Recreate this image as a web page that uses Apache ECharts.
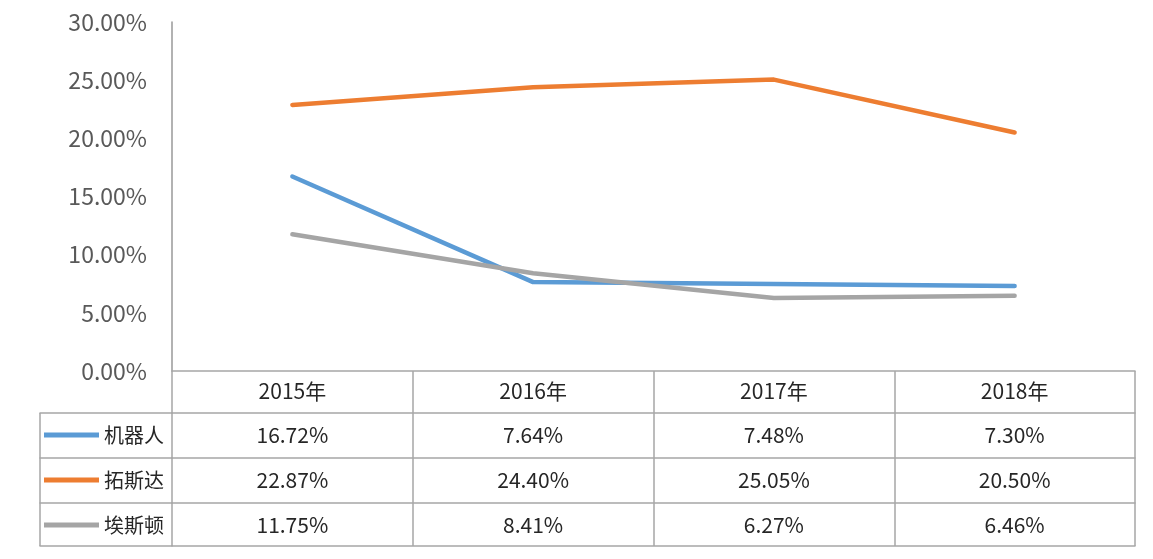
<!DOCTYPE html>
<html>
<head>
<meta charset="utf-8">
<title>机器人 拓斯达 埃斯顿</title>
<script src="https://cdn.jsdelivr.net/npm/echarts@6/dist/echarts.min.js"></script>
<style>
    html, body { margin: 0; padding: 0; background: #fff; }
    #main { width: 1153px; height: 559px; }
</style>
</head>
<body>
<div id="main"></div>
<script>
// 数据
var years = ['2015年', '2016年', '2017年', '2018年'];
var robot = [16.72, 7.64, 7.48, 7.30];     // 机器人
var tuosida = [22.87, 24.40, 25.05, 20.50];  // 拓斯达
var estun = [11.75, 8.41, 6.27, 6.46];      // 埃斯顿
var names = ['机器人', '拓斯达', '埃斯顿'];
var colors = ['#5b9bd5', '#ed7d31', '#a5a5a5'];

var font = "'Noto Sans CJK SC', 'Open Sans', sans-serif";
var lineGray = '#a6a6a6';

function pct(v) {
    return v.toFixed(2) + '%';
}

// 表格的一行：用底部的类目轴画出横线、竖线和文字
function tableRow(grid, data, offset, tickLen, showLabel) {
    return {
        type: 'category',
        gridIndex: grid,
        position: 'bottom',
        offset: offset,
        data: data,
        boundaryGap: true,
        axisLine: { show: true, onZero: false, lineStyle: { color: lineGray, width: 1.5 } },
        axisTick: { show: tickLen > 0, length: tickLen, lineStyle: { color: lineGray, width: 1.5 } },
        axisLabel: {
            show: showLabel,
            margin: 12,
            fontSize: 21,
            color: '#262626',
            fontFamily: font
        },
        splitLine: { show: false }
    };
}

var chart = echarts.init(document.getElementById('main'));

var xAxes = [];
// 主图表
xAxes.push(tableRow(0, years, 0, 42, true));
xAxes[0].axisLabel.margin = 10;
xAxes.push(tableRow(0, robot.map(pct), 42, 45, true));
xAxes.push(tableRow(0, tuosida.map(pct), 87, 45, true));
xAxes.push(tableRow(0, estun.map(pct), 132, 43, true));
xAxes.push(tableRow(0, years, 175, 0, false));
// 左侧图例列
xAxes.push(tableRow(1, [''], 42, 45, false));
xAxes.push(tableRow(1, [''], 87, 45, false));
xAxes.push(tableRow(1, [''], 132, 43, false));
xAxes.push(tableRow(1, [''], 175, 0, false));

chart.setOption({
    backgroundColor: '#fff',
    animation: false,
    grid: [
        { left: 172, right: 18, top: 22, bottom: 188 },
        { left: 40, width: 132, top: 22, bottom: 188 }
    ],
    legend: {
        orient: 'vertical',
        left: 44,
        top: 423,
        padding: 0,
        itemGap: 21,
        itemWidth: 55,
        itemHeight: 5,
        icon: 'rect',
        data: names,
        textStyle: {
            fontSize: 20,
            lineHeight: 24,
            color: '#262626',
            fontFamily: font
        }
    },
    xAxis: xAxes,
    yAxis: [
        {
            type: 'value',
            gridIndex: 0,
            min: 0,
            max: 30,
            interval: 5,
            axisLine: { show: true, lineStyle: { color: '#999', width: 1.5 } },
            axisTick: { show: false },
            splitLine: { show: false },
            axisLabel: {
                margin: 25,
                fontSize: 23,
                color: '#595959',
                fontFamily: font,
                formatter: function (v) {
                    return pct(v);
                }
            }
        },
        { type: 'value', gridIndex: 1, show: false }
    ],
    series: [robot, tuosida, estun].map(function (d, i) {
        return {
            name: names[i],
            type: 'line',
            xAxisIndex: 0,
            yAxisIndex: 0,
            data: d,
            symbol: 'none',
            color: colors[i],
            lineStyle: { width: 4.5, color: colors[i], cap: 'round', join: 'round' },
            z: 5
        };
    })
});
</script>
</body>
</html>
